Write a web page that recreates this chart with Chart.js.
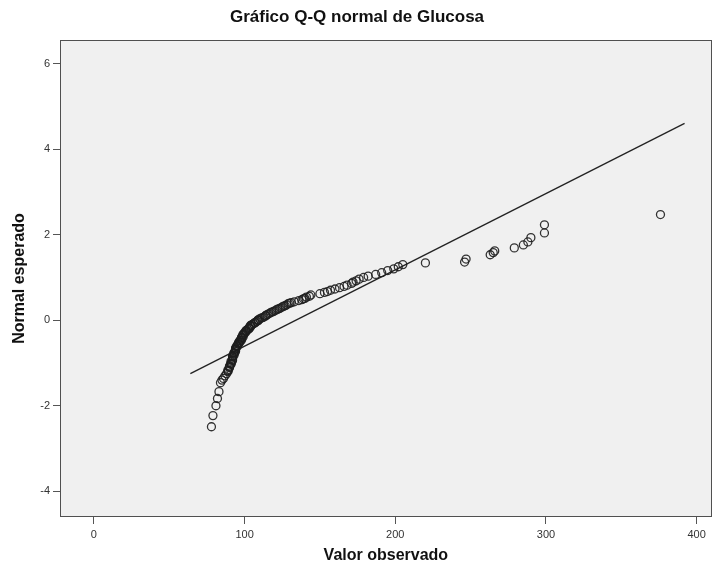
<!DOCTYPE html>
<html>
<head>
<meta charset="utf-8">
<script src="https://cdn.jsdelivr.net/npm/chart.js@4/dist/chart.umd.min.js"></script>
<style>
html, body { margin: 0; padding: 0; background: #fff; }
</style>
</head>
<body>
<canvas id="qq" width="717" height="567"></canvas>
<script>
// glucosa observada (ordenada) y valor normal esperado de cada punto
const glucosa = [
    78, 79, 81, 82, 83, 84, 85,
    86, 87, 88, 89, 89, 89, 90, 90, 90, 91,
    91, 91, 91, 92, 92, 92, 92, 92, 93, 93,
    93, 93, 94, 94, 94, 94, 94, 95, 95, 95,
    96, 96, 96, 97, 97, 97, 98, 98, 98, 98,
    99, 99, 99, 99, 100, 100, 101, 101, 101, 102,
    103, 103, 103, 104, 104, 104, 105, 106, 107, 107,
    108, 109, 109, 109, 110, 111, 112, 113, 114, 114,
    115, 116, 117, 118, 119, 120, 121, 122, 123, 124,
    125, 126, 127, 128, 129, 130, 131, 133, 136, 138,
    139, 140, 141, 143, 144, 150, 153, 155, 157, 160,
    163, 166, 168, 171, 172, 174, 176, 179, 182, 187,
    191, 195, 199, 202, 205,
    220, 246, 247, 263, 265, 266, 279, 285, 288, 290, 299, 299, 376
]
const esperado = [
    -2.49, -2.23, -2.00, -1.83, -1.67, -1.46, -1.40,
    -1.36, -1.30, -1.25, -1.20, -1.18, -1.16, -1.11, -1.09, -1.07, -1.03,
    -1.01, -1.00, -0.96, -0.94, -0.92, -0.89, -0.86, -0.84, -0.82, -0.79,
    -0.77, -0.76, -0.73, -0.70, -0.68, -0.67, -0.65, -0.62, -0.60, -0.59,
    -0.56, -0.54, -0.52, -0.51, -0.48, -0.47, -0.46, -0.43, -0.41, -0.40,
    -0.39, -0.36, -0.34, -0.33, -0.31, -0.29, -0.27, -0.25, -0.24, -0.22,
    -0.20, -0.19, -0.17, -0.15, -0.13, -0.12, -0.10, -0.08, -0.06, -0.05,
    -0.03, -0.01, 0.00, 0.01, 0.03, 0.05, 0.06, 0.08, 0.10, 0.11,
    0.13, 0.15, 0.17, 0.19, 0.20, 0.22, 0.24, 0.26, 0.27, 0.29,
    0.31, 0.33, 0.34, 0.36, 0.39, 0.40, 0.41, 0.43, 0.46, 0.48,
    0.50, 0.51, 0.54, 0.56, 0.59, 0.62, 0.65, 0.67, 0.70, 0.73,
    0.76, 0.79, 0.82, 0.86, 0.89, 0.92, 0.96, 1.00, 1.03, 1.07,
    1.11, 1.16, 1.20, 1.25, 1.30,
    1.34, 1.36, 1.43, 1.53, 1.58, 1.62, 1.69, 1.76, 1.83, 1.93, 2.04, 2.23, 2.47
]

// recta de referencia (extremos)
const rectaX = [64, 392]
const rectaY = [-1.25, 4.60]

const xTicks = [0, 100, 200, 300, 400]
const yTicks = [-4, -2, 0, 2, 4, 6]

Chart.defaults.font.family = "'Liberation Sans', Arial, sans-serif"
Chart.defaults.color = "#222"

// fondo gris y marco del area del grafico
const marco = {
    id: "marco",
    beforeDraw(chart){
        const {ctx, chartArea: a} = chart
        ctx.save()
        ctx.fillStyle = "#f0f0f0"
        ctx.fillRect(a.left, a.top, a.right - a.left, a.bottom - a.top)
        ctx.restore()
    },
    afterDraw(chart){
        const {ctx, chartArea: a} = chart
        ctx.save()
        ctx.strokeStyle = "#505050"
        ctx.lineWidth = 1
        ctx.strokeRect(Math.round(a.left) + 0.5, Math.round(a.top) + 0.5,
            Math.round(a.right - a.left) - 1, Math.round(a.bottom - a.top) - 1)
        ctx.restore()
    }
}

const puntos = glucosa.map((g, i) => ({x: g, y: esperado[i]}))
const recta = rectaX.map((x, i) => ({x: x, y: rectaY[i]}))

new Chart(document.getElementById("qq"), {
    type: "scatter",
    data: {
        datasets: [
            {
                data: puntos,
                pointRadius: 4,
                pointHoverRadius: 4,
                pointBorderWidth: 1.3,
                borderColor: "rgba(30,30,30,0.9)",
                backgroundColor: "rgba(0,0,0,0)"
            },
            {
                type: "line",
                data: recta,
                borderColor: "#222",
                borderWidth: 1.3,
                pointRadius: 0,
                fill: false
            }
        ]
    },
    options: {
        responsive: false,
        animation: false,
        devicePixelRatio: 1,
        layout: {padding: {left: 0, right: 3, top: 0, bottom: 0}},
        plugins: {
            legend: {display: false},
            tooltip: {enabled: false},
            title: {
                display: true,
                text: "Gráfico Q-Q normal de Glucosa",
                color: "#111",
                font: {size: 17, weight: "bold"},
                padding: {top: 7, bottom: 12.6}
            }
        },
        scales: {
            x: {
                type: "linear",
                min: -22.5,
                max: 410,
                afterBuildTicks: s => { s.ticks = xTicks.map(v => ({value: v})) },
                afterFit: s => { s.height = 50 },
                grid: {display: true, drawOnChartArea: false, drawTicks: true, tickLength: 7, tickColor: "#555"},
                border: {display: false},
                ticks: {font: {size: 11}, color: "#333", padding: 4},
                title: {
                    display: true,
                    text: "Valor observado",
                    color: "#111",
                    font: {size: 16, weight: "bold"},
                    padding: {top: 0, bottom: 2}
                }
            },
            y: {
                type: "linear",
                min: -4.6,
                max: 6.55,
                afterBuildTicks: s => { s.ticks = yTicks.map(v => ({value: v})) },
                afterFit: s => { s.width = 60 },
                grid: {display: true, drawOnChartArea: false, drawTicks: true, tickLength: 7, tickColor: "#555"},
                border: {display: false},
                ticks: {font: {size: 11}, color: "#333", padding: 3},
                title: {
                    display: true,
                    text: "Normal esperado",
                    color: "#111",
                    font: {size: 16, weight: "bold"},
                    padding: {top: 10, bottom: 0}
                }
            }
        }
    },
    plugins: [marco]
})
</script>
</body>
</html>
